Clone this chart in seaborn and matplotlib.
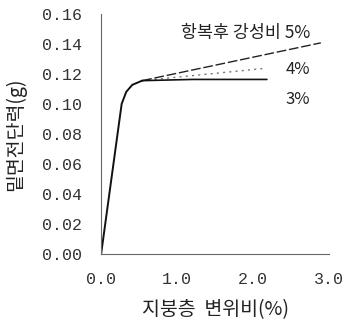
import matplotlib
matplotlib.use("Agg")
import matplotlib.pyplot as plt
import seaborn as sns

# Elastic branch shared by all three curves
rise_x = [0.0, 0.17, 0.27, 0.33, 0.41, 0.54]
rise_y = [0.0, 0.063, 0.100, 0.108, 0.1127, 0.1155]

# Post-yield branches for each post-yield stiffness ratio
post_x_5 = [0.54, 2.89]
post_y_5 = [0.1155, 0.1407]
post_x_4 = [0.54, 2.12]
post_y_4 = [0.1155, 0.1235]
post_x_3 = [0.54, 1.20, 2.18]
post_y_3 = [0.1155, 0.1163, 0.1163]

x_ticks = [0.0, 1.0, 2.0, 3.0]
y_ticks = [0.00, 0.02, 0.04, 0.06, 0.08, 0.10, 0.12, 0.14, 0.16]

sns.set_theme(style="white")
plt.rcParams["font.family"] = ["Noto Sans CJK KR", "DejaVu Sans"]

fig = plt.figure(figsize=(3.44, 3.23), dpi=100)
ax = fig.add_axes([0.294, 0.214, 0.663, 0.743])

sns.lineplot(x=post_x_4, y=post_y_4, ax=ax, color="#777777", lw=1.0,
             linestyle=(0, (1.5, 3)), sort=False, estimator=None)
sns.lineplot(x=post_x_5, y=post_y_5, ax=ax, color="#222222", lw=1.0,
             linestyle=(0, (7, 2)), sort=False, estimator=None)
sns.lineplot(x=post_x_3, y=post_y_3, ax=ax, color="#111111", lw=1.2,
             sort=False, estimator=None)
sns.lineplot(x=rise_x, y=rise_y, ax=ax, color="#111111", lw=1.4,
             sort=False, estimator=None)

ax.set_xlim(0, 3.0)
ax.set_ylim(0, 0.16)
ax.set_xticks(x_ticks)
ax.set_yticks(y_ticks)
ax.set_xticklabels([f"{v:.1f}" for v in x_ticks], family="Liberation Mono", fontsize=12)
ax.set_yticklabels([f"{v:.2f}" for v in y_ticks], family="Liberation Mono", fontsize=12)
ax.tick_params(axis="both", length=0, colors="#333333")
ax.tick_params(axis="y", pad=14)
ax.tick_params(axis="x", pad=13)

for side in ("top", "right"):
    ax.spines[side].set_visible(False)
for side in ("left", "bottom"):
    ax.spines[side].set_color("#666666")
    ax.spines[side].set_linewidth(0.8)
    ax.spines[side].set_linestyle((0, (6, 1)))

ax.set_xlabel("지붕층  변위비(%)", fontsize=14, color="#222222", labelpad=9)
ax.set_ylabel("밑면전단력(g)", fontsize=14, color="#222222", labelpad=11)

ax.text(2.75, 0.147, "항복후 강성비 5%", fontsize=12.5, ha="right", va="center", color="#222222")
ax.text(2.75, 0.1227, "4%", fontsize=12, ha="right", va="center", color="#222222")
ax.text(2.75, 0.1027, "3%", fontsize=12, ha="right", va="center", color="#222222")

fig.savefig("out.png", dpi=100)
